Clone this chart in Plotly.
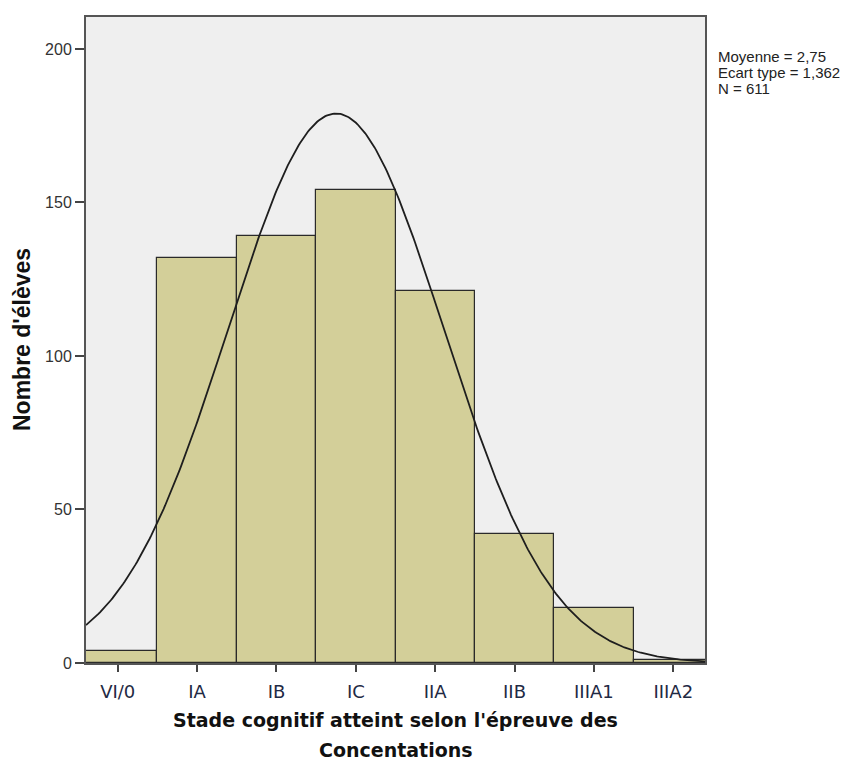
import numpy as np
import plotly.graph_objects as go

# ---- data ----
categories = ["VI/0", "IA", "IB", "IC", "IIA", "IIB", "IIIA1", "IIIA2"]
counts = [4, 132, 139, 154, 121, 42, 18, 1]
MEAN = 2.75
SD = 1.362
N = 611
y_ticks = [0, 50, 100, 150, 200]

positions = list(range(len(categories)))

# normal curve fitted on the stated statistics (bin width = 1)
xc = np.linspace(-0.4, 7.4, 400)
yc = N * 1.0 / (SD * np.sqrt(2 * np.pi)) * np.exp(-0.5 * ((xc - MEAN) / SD) ** 2)

fig = go.Figure()
fig.add_trace(go.Bar(
    x=positions, y=counts, width=1.0,
    marker=dict(color="#d3cf99", line=dict(color="#2a2a2a", width=1.2)),
    hoverinfo="skip",
))
fig.add_trace(go.Scatter(
    x=xc, y=yc, mode="lines",
    line=dict(color="#1e1e1e", width=1.8),
    hoverinfo="skip",
))

W, H = 853, 761
L, R, T, B = 86, 148, 17, 98

fig.update_layout(
    width=W, height=H,
    margin=dict(l=L, r=R, t=T, b=B, pad=0),
    paper_bgcolor="white",
    plot_bgcolor="#efefef",
    showlegend=False,
    bargap=0,
    xaxis=dict(
        range=[-0.4, 7.4],
        tickmode="array", tickvals=positions, ticktext=categories,
        ticks="outside", ticklen=7, tickwidth=2, tickcolor="#444",
        ticklabelstandoff=4,
        showline=True, linecolor="#555", linewidth=2, mirror=True,
        showgrid=False, zeroline=False,
        tickfont=dict(family="DejaVu Sans", size=18, color="#1f2a44"),
    ),
    yaxis=dict(
        range=[0, 210.4],
        tickmode="array", tickvals=y_ticks,
        ticks="outside", ticklen=9, tickwidth=2, tickcolor="#444",
        showline=True, linecolor="#555", linewidth=2, mirror=True,
        showgrid=False, zeroline=False,
        tickfont=dict(family="Liberation Sans, Arial", size=16, color="#333"),
    ),
)

ann_common = dict(xref="paper", yref="paper", showarrow=False)
# x title (two lines)
fig.add_annotation(text="<b>Stade cognitif atteint selon l'épreuve des</b>", x=0.5, y=-0.089,
                   xanchor="center", yanchor="middle",
                   font=dict(family="DejaVu Sans", size=19, color="#111"), **ann_common)
fig.add_annotation(text="<b>Concentations</b>", x=0.5, y=-0.1347,
                   xanchor="center", yanchor="middle",
                   font=dict(family="DejaVu Sans", size=19, color="#111"), **ann_common)
# y title
fig.add_annotation(text="<b>Nombre d'élèves</b>", x=(22 - L) / (W - L - R), y=0.5,
                   xanchor="center", yanchor="middle", textangle=-90,
                   font=dict(family="Liberation Sans, Arial", size=23, color="#111"), **ann_common)
# stats
stats = ["Moyenne = 2,75", "Ecart type = 1,362", "N = 611"]
ys = [56.5, 72.5, 88.5]
for s, yp in zip(stats, ys):
    fig.add_annotation(text=s, x=(716 - L) / (W - L - R), y=(663 - yp) / (663 - T),
                       xanchor="left", yanchor="middle",
                       font=dict(family="Liberation Sans, Arial", size=15, color="#222"),
                       **ann_common)

fig.write_html("out.html")
